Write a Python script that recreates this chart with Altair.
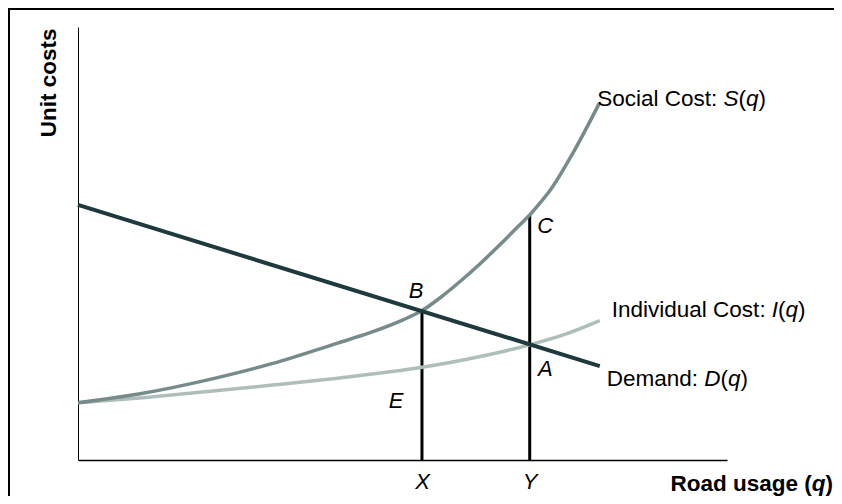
import altair as alt
import pandas as pd

# ---- data (axes run 0..100 on both x and y) ----
demand_x = [0.0, 80.4]
demand_y = [58.9, 21.7]

social_x = [0.0, 10.0, 20.0, 30.0, 40.0, 45.0, 50.0, 53.0, 56.0, 59.0, 62.0, 65.0, 68.0,
            69.6, 71.2, 72.7, 76.3, 80.3]
social_y = [13.2, 15.4, 18.5, 22.3, 27.0, 29.4, 32.3, 34.5, 37.7, 41.4, 45.4, 49.7, 54.2,
            56.6, 59.4, 62.2, 71.0, 82.3]

indiv_x = [0.0, 10.0, 20.0, 30.0, 40.0, 53.0, 62.0, 69.6, 75.0, 80.4]
indiv_y = [13.2, 14.4, 15.8, 17.3, 18.9, 21.4, 23.9, 26.6, 29.0, 32.2]

vline_x = [53.0, 69.6]
vline_top = [34.5, 56.6]
tick_labels = ["X", "Y"]

point_labels = ["B", "C", "A", "E"]
point_x = [52.1, 72.0, 72.0, 49.0]
point_y = [37.5, 52.5, 19.3, 12.1]

FONT = "Liberation Sans"
FS = 22.5

# Arial / Liberation Sans advance widths (per 1000 em)
W = {' ': 278, ':': 278, '(': 333, ')': 333, 'A': 667, 'C': 722, 'D': 722, 'I': 278,
     'S': 667, 'a': 556, 'c': 500, 'd': 556, 'e': 556, 'i': 222, 'l': 222, 'm': 833,
     'n': 556, 'o': 556, 'q': 556, 's': 500, 't': 278, 'u': 556, 'v': 500}


def tw(s):
    return sum(W[c] for c in s) * FS / 1000.0


xs = alt.Scale(domain=[0, 100], nice=False, zero=False)
ys = alt.Scale(domain=[0, 100], nice=False, zero=False)

mid = (vline_x[0] + vline_x[1]) / 2
label_expr = f"datum.value < {mid} ? '{tick_labels[0]}' : '{tick_labels[1]}'"

X = alt.X("x:Q", scale=xs, axis=alt.Axis(
    values=vline_x, labelExpr=label_expr, grid=False, ticks=False, tickSize=0,
    domainColor="black", domainWidth=1.5, labelFont=FONT, labelFontSize=22,
    labelFontStyle="italic", labelColor="black", labelPadding=11, title=None))
Y = alt.Y("y:Q", scale=ys, axis=alt.Axis(
    labels=False, ticks=False, grid=False, domainColor="black", domainWidth=1,
    title="Unit costs", titleFont=FONT, titleFontSize=FS, titleFontWeight="bold",
    titleColor="black", titleAngle=270, titleAlign="right", titleBaseline="alphabetic",
    titleX=-23, titleY=1))

df_d = pd.DataFrame({"x": demand_x, "y": demand_y})
df_s = pd.DataFrame({"x": social_x, "y": social_y})
df_i = pd.DataFrame({"x": indiv_x, "y": indiv_y})
df_v = pd.DataFrame({"x": vline_x, "y": [0.0] * len(vline_x), "y2": vline_top})
df_p = pd.DataFrame({"x": point_x, "y": point_y, "t": point_labels})

layers = []

# frame around the whole figure
frame = alt.Chart(pd.DataFrame({"a": [0]})).mark_rect(
    fillOpacity=0, stroke="black", strokeWidth=2
).encode(x=alt.value(-69), y=alt.value(-18), x2=alt.value(900), y2=alt.value(600))
layers.append(frame)

rules = alt.Chart(df_v).mark_rule(color="black", strokeWidth=3).encode(
    x=X, y=Y, y2="y2:Q")
layers.append(rules)

indiv = alt.Chart(df_i).mark_line(color="#aebfbb", strokeWidth=3.5, interpolate="monotone").encode(x=X, y=Y)
social = alt.Chart(df_s).mark_line(color="#778b8b", strokeWidth=3.5, interpolate="monotone").encode(x=X, y=Y)
demand = alt.Chart(df_d).mark_line(color="#1f3a3d", strokeWidth=4).encode(x=X, y=Y)
layers += [indiv, social, demand]

pts = alt.Chart(df_p).mark_text(
    font=FONT, fontSize=22, fontStyle="italic", align="center", baseline="alphabetic", color="black"
).encode(x=X, y=Y, text="t:N")
layers.append(pts)


def curve_label(xv, yv, segs, dx0, dy0):
    out = []
    off = dx0
    d = pd.DataFrame({"x": [xv], "y": [yv]})
    for txt, ital in segs:
        out.append(alt.Chart(d).mark_text(
            font=FONT, fontSize=FS, fontStyle="italic" if ital else "normal",
            align="left", baseline="alphabetic", color="black", dx=off, dy=dy0
        ).encode(x=X, y=Y, text=alt.value(txt)))
        off += tw(txt)
    return out


layers += curve_label(social_x[-1], social_y[-1],
                      [("Social Cost: ", False), ("S", True), ("(", False), ("q", True), (")", False)],
                      -2, 2)
layers += curve_label(indiv_x[-1], indiv_y[-1],
                      [("Individual Cost: ", False), ("I", True), ("(", False), ("q", True), (")", False)],
                      12, -4)
layers += curve_label(demand_x[-1], demand_y[-1],
                      [("Demand: ", False), ("D", True), ("(", False), ("q", True), (")", False)],
                      7, 20)

# x-axis title "Road usage (q)" with italic q
bw_close = 333 * FS / 1000.0
bw_q = 611 * FS / 1000.0
x_end = 755
title_y = 464
one = pd.DataFrame({"a": [0]})
layers.append(alt.Chart(one).mark_text(font=FONT, fontSize=FS, fontWeight="bold", align="right",
                                       baseline="alphabetic", color="black").encode(
    x=alt.value(x_end), y=alt.value(title_y), text=alt.value(")")))
layers.append(alt.Chart(one).mark_text(font=FONT, fontSize=FS, fontWeight="bold", fontStyle="italic",
                                       align="right", baseline="alphabetic", color="black").encode(
    x=alt.value(x_end - bw_close), y=alt.value(title_y), text=alt.value("q")))
layers.append(alt.Chart(one).mark_text(font=FONT, fontSize=FS, fontWeight="bold", align="right",
                                       baseline="alphabetic", color="black").encode(
    x=alt.value(x_end - bw_close - bw_q), y=alt.value(title_y), text=alt.value("Road usage (")))

chart = alt.layer(*layers).properties(
    width=649, height=433,
    autosize=alt.AutoSizeParams(type="none"),
    padding={"left": 70, "top": 19, "right": 107, "bottom": 36},
    background="white",
).configure_view(stroke=None)

chart.save("out.html", embed_options={"renderer": "svg", "actions": False})
